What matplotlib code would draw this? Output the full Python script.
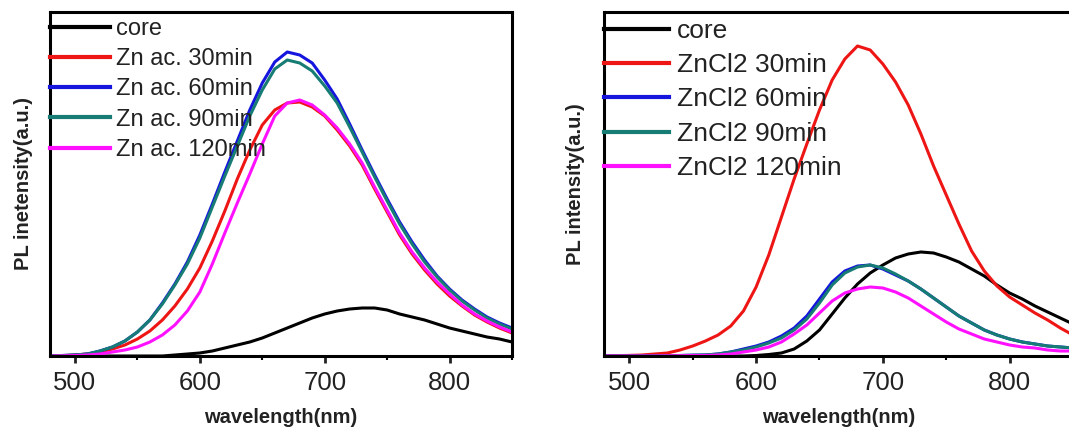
import matplotlib
matplotlib.use("Agg")
import matplotlib.pyplot as plt
from matplotlib.ticker import MultipleLocator, NullLocator

plt.rcParams['font.family'] = ['Liberation Sans', 'DejaVu Sans']

# ---------------- data ----------------
wavelength = list(range(480, 851, 10))

# Left panel: Zn acetate series
left_labels = ["core", "Zn ac. 30min", "Zn ac. 60min", "Zn ac. 90min", "Zn ac. 120min"]
left_core = [0, 0, 0, 0, 0, 0, 0, 0, 0, 0, 1, 2, 3, 5, 8, 11, 14, 18, 23, 28,
             33, 38, 42, 45, 47, 48, 48, 46, 42, 39, 36, 32, 28, 25, 22, 19, 17, 14]
left_30 = [0, 0.3, 1, 2, 4, 7, 11, 17, 25, 36, 50, 67, 88, 115, 145, 177, 206, 231, 246, 253,
           254, 249, 240, 226, 210, 191, 167, 144, 121, 102, 86, 72, 60, 50, 41, 34, 28, 23]
left_60 = [0, 0.5, 1, 2, 5, 9, 15, 24, 36, 53, 72, 94, 121, 152, 184, 215, 246, 273, 294, 304,
           301, 293, 276, 257, 232, 206, 181, 157, 134, 114, 96, 80, 67, 56, 47, 39, 33, 28]
left_90 = [0, 0.5, 1, 2, 5, 9, 15, 24, 36, 52, 71, 92, 118, 149, 180, 210, 240, 266, 287, 296,
           293, 285, 270, 253, 229, 204, 179, 155, 132, 112, 94, 79, 66, 55, 46, 38, 32, 27]
left_120 = [0, 0.2, 0.5, 1, 2, 4, 6, 9, 14, 21, 31, 45, 64, 92, 123, 153, 182, 212, 240, 253,
            256, 251, 241, 228, 212, 193, 169, 146, 123, 104, 88, 74, 62, 51, 42, 35, 29, 24]

# Right panel: ZnCl2 series
right_labels = ["core", "ZnCl2 30min", "ZnCl2 60min", "ZnCl2 90min", "ZnCl2 120min"]
right_core = [0, 0, 0, 0, 0, 0, 0, 0, 0, 0, 0, 0, 0.5, 1.5, 3, 7, 15, 26, 42, 58,
              72, 83, 91, 98, 102, 104, 103, 99, 94, 87, 80, 71, 63, 57, 50, 44, 38, 32]
right_30 = [0, 0.3, 0.6, 1, 2, 3, 6, 10, 15, 21, 30, 45, 69, 101, 139, 177, 212, 246, 276, 297,
            310, 306, 292, 274, 251, 222, 190, 161, 132, 105, 85, 70, 59, 51, 43, 36, 28, 21]
right_60 = [0, 0, 0, 0, 0, 0.3, 0.5, 0.8, 1, 2, 4, 7, 10, 14, 20, 28, 40, 57, 74, 85,
            90, 91, 87, 81, 75, 67, 58, 49, 40, 33, 26, 21, 17, 14, 12, 10, 9, 8]
right_90 = [0, 0, 0, 0, 0, 0.3, 0.5, 0.8, 1, 2, 4, 6, 9, 13, 18, 26, 37, 53, 71, 83,
            89, 91, 88, 82, 75, 67, 58, 49, 40, 33, 26, 21, 17, 14, 12, 10, 9, 8]
right_120 = [0, 0, 0, 0, 0, 0.2, 0.3, 0.5, 0.5, 1, 2, 4, 6, 9, 14, 22, 31, 43, 55, 63,
             67, 69, 68, 64, 58, 50, 42, 34, 27, 22, 17, 14, 11, 9, 8, 6, 5, 5]

colors = ["#000000", "#ee1515", "#1515dd", "#167c74", "#ff10ff"]

left_series = [left_core, left_30, left_60, left_90, left_120]
right_series = [right_core, right_30, right_60, right_90, right_120]

# ---------------- figure ----------------
W, H = 1069, 428
fig = plt.figure(figsize=(W / 100, H / 100), dpi=100)

ax1 = fig.add_axes([50 / W, (H - 356) / H, 462 / W, 344 / H])
ax2 = fig.add_axes([604 / W, (H - 356) / H, 469 / W, 344 / H])


def style(ax, series, labels, ylabel, leg_fs, leg_hl, leg_pad, leg_spacing, anchor, ypad):
    for y, c, lab in zip(series, colors, labels):
        ax.plot(wavelength, y, color=c, lw=2.2, label=lab, solid_joinstyle='round')
    ax.set_xlim(480, 850)
    ax.set_ylim(0, 344)
    ax.xaxis.set_major_locator(MultipleLocator(100))
    ax.xaxis.set_minor_locator(MultipleLocator(50))
    ax.yaxis.set_major_locator(NullLocator())
    ax.tick_params(axis='x', which='major', direction='out', length=5, width=2,
                   labelsize=18.5, pad=6, colors='#222222', top=False)
    ax.tick_params(axis='x', which='minor', direction='out', length=3, width=1.5, top=False)
    for sp in ax.spines.values():
        sp.set_linewidth(2.2)
    ax.set_xlabel("wavelength(nm)", fontsize=14.5, fontweight='bold', labelpad=9, color='#222222')
    ax.set_ylabel(ylabel, fontsize=14.5, fontweight='bold', labelpad=ypad, color='#222222')
    leg = ax.legend(loc='upper left', bbox_to_anchor=anchor, frameon=False,
                    fontsize=leg_fs, handlelength=leg_hl, handletextpad=leg_pad,
                    labelspacing=leg_spacing, borderaxespad=0, borderpad=0)
    for t in leg.get_texts():
        t.set_color('#222222')
    for ln in leg.get_lines():
        ln.set_linewidth(3.0)


style(ax1, left_series, left_labels, "PL inetensity(a.u.)", 17, 2.55, 0.25, 0.35, (0.0, 0.983), 12)
style(ax2, right_series, right_labels, "PL intensity(a.u.)", 19, 2.45, 0.3, 0.39, (0.0, 0.98), 14)

fig.savefig("out.png", dpi=100)
